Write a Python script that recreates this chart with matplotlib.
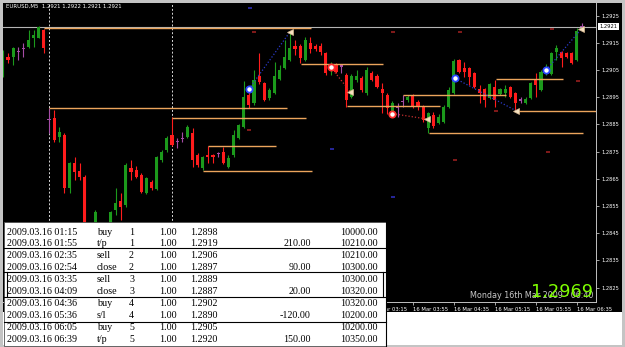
import matplotlib
matplotlib.use('Agg')
import matplotlib.pyplot as plt
from matplotlib.patches import Rectangle
import numpy as np

# EURUSD M5, bar index 0 = 16 Mar 00:00 (one bar = 5 minutes)
bar_idx = np.arange(-33, 81)

opens = [
    1.29032, 1.29098, 1.29098, 1.29120, 1.29131, 1.29135, 1.29168, 1.29168, 1.29197, 1.28867,  # -33..-24
    1.28874, 1.28804, 1.28811, 1.28617, 1.28708, 1.28679, 1.28657, 1.28440, 1.28389, 1.28477,  # -23..-14
    1.28411, 1.28455, 1.28536, 1.28569, 1.28554, 1.28690, 1.28683, 1.28664, 1.28598, 1.28639,  # -13..-4
    1.28613, 1.28719, 1.28756, 1.28811, 1.28786, 1.28797, 1.28804, 1.28819, 1.28738, 1.28690,  # -3..6
    1.28738, 1.28738, 1.28742, 1.28749, 1.28694, 1.28738, 1.28800, 1.28841, 1.28958, 1.28929,  # 7..16
    1.29028, 1.29003, 1.28947, 1.28966, 1.29017, 1.29058, 1.29087, 1.29139, 1.29139, 1.29087,  # 17..26
    1.29150, 1.29139, 1.29139, 1.29113, 1.29058, 1.29069, 1.29065, 1.29032, 1.28951, 1.29014,  # 27..36
    1.29021, 1.28966, 1.29039, 1.29028, 1.28981, 1.28958, 1.28896, 1.28911, 1.28933, 1.28940,  # 37..46
    1.28958, 1.28933, 1.28914, 1.28837, 1.28885, 1.28856, 1.28859, 1.28914, 1.28966, 1.29087,  # 47..56
    1.29058, 1.29058, 1.29039, 1.28981, 1.28981, 1.28947, 1.28988, 1.28962, 1.28966, 1.28988,  # 57..66
    1.28966, 1.28940, 1.28929, 1.28947, 1.29014, 1.28977, 1.29043, 1.29036, 1.29117, 1.29117,  # 67..76
    1.29113, 1.29113, 1.29087, 1.29210,                                                        # 77..80
]
highs = [
    1.29124, 1.29113, 1.29135, 1.29135, 1.29150, 1.29197, 1.29197, 1.29212, 1.29201, 1.28911,
    1.28903, 1.28841, 1.28819, 1.28712, 1.28731, 1.28708, 1.28664, 1.28455, 1.28536, 1.28484,
    1.28477, 1.28532, 1.28617, 1.28598, 1.28708, 1.28719, 1.28697, 1.28672, 1.28657, 1.28646,
    1.28734, 1.28756, 1.28808, 1.28878, 1.28800, 1.28822, 1.28848, 1.28837, 1.28745, 1.28734,
    1.28771, 1.28742, 1.28749, 1.28767, 1.28738, 1.28830, 1.28852, 1.29010, 1.28981, 1.29050,
    1.29113, 1.29006, 1.28984, 1.29080, 1.29069, 1.29161, 1.29190, 1.29161, 1.29146, 1.29172,
    1.29172, 1.29146, 1.29150, 1.29117, 1.29080, 1.29076, 1.29069, 1.29039, 1.29036, 1.29050,
    1.29028, 1.29061, 1.29047, 1.29036, 1.29003, 1.28966, 1.28936, 1.28929, 1.28958, 1.28958,
    1.28962, 1.28940, 1.28922, 1.28896, 1.28896, 1.28889, 1.28922, 1.28988, 1.29091, 1.29091,
    1.29080, 1.29061, 1.29043, 1.28995, 1.28984, 1.29003, 1.29014, 1.28984, 1.28995, 1.28992,
    1.28970, 1.28951, 1.28951, 1.29006, 1.29039, 1.29050, 1.29072, 1.29117, 1.29142, 1.29120,
    1.29117, 1.29117, 1.29205, 1.29223,
]
lows = [
    1.29025, 1.29076, 1.29069, 1.29087, 1.29098, 1.29131, 1.29135, 1.29168, 1.29113, 1.28819,
    1.28786, 1.28786, 1.28598, 1.28598, 1.28646, 1.28646, 1.28425, 1.28367, 1.28374, 1.28396,
    1.28389, 1.28440, 1.28517, 1.28499, 1.28547, 1.28646, 1.28653, 1.28598, 1.28595, 1.28609,
    1.28609, 1.28712, 1.28749, 1.28771, 1.28764, 1.28786, 1.28800, 1.28694, 1.28694, 1.28683,
    1.28708, 1.28708, 1.28731, 1.28705, 1.28690, 1.28731, 1.28797, 1.28837, 1.28911, 1.28922,
    1.28999, 1.28936, 1.28940, 1.28962, 1.29014, 1.29054, 1.29083, 1.29106, 1.29076, 1.29083,
    1.29113, 1.29120, 1.29106, 1.29032, 1.29032, 1.29039, 1.29039, 1.28914, 1.28947, 1.29006,
    1.28970, 1.28958, 1.29010, 1.28984, 1.28892, 1.28889, 1.28889, 1.28878, 1.28914, 1.28933,
    1.28911, 1.28903, 1.28859, 1.28819, 1.28837, 1.28852, 1.28856, 1.28911, 1.28962, 1.29039,
    1.29025, 1.28995, 1.28984, 1.28929, 1.28914, 1.28944, 1.28914, 1.28958, 1.28951, 1.28947,
    1.28900, 1.28929, 1.28925, 1.28944, 1.28951, 1.28973, 1.29032, 1.29032, 1.29087, 1.29061,
    1.29094, 1.29072, 1.29083, 1.29205,
]
closes = [
    1.29117, 1.29087, 1.29131, 1.29120, 1.29131, 1.29161, 1.29179, 1.29208, 1.29131, 1.28867,
    1.28793, 1.28822, 1.28617, 1.28708, 1.28675, 1.28657, 1.28440, 1.28389, 1.28528, 1.28411,
    1.28462, 1.28528, 1.28561, 1.28547, 1.28701, 1.28675, 1.28657, 1.28602, 1.28653, 1.28617,
    1.28731, 1.28749, 1.28800, 1.28775, 1.28786, 1.28797, 1.28841, 1.28719, 1.28701, 1.28731,
    1.28731, 1.28731, 1.28742, 1.28708, 1.28727, 1.28811, 1.28848, 1.28951, 1.28922, 1.29014,
    1.29006, 1.28940, 1.28977, 1.29028, 1.29050, 1.29098, 1.29131, 1.29128, 1.29094, 1.29161,
    1.29128, 1.29128, 1.29117, 1.29039, 1.29069, 1.29043, 1.29065, 1.28940, 1.29028, 1.29028,
    1.28977, 1.29050, 1.29014, 1.28988, 1.28966, 1.28911, 1.28929, 1.28911, 1.28933, 1.28951,
    1.28914, 1.28914, 1.28867, 1.28892, 1.28845, 1.28878, 1.28914, 1.28977, 1.29083, 1.29043,
    1.29043, 1.29025, 1.28988, 1.28966, 1.28940, 1.28999, 1.28940, 1.28981, 1.28981, 1.28951,
    1.28929, 1.28940, 1.28944, 1.29003, 1.28995, 1.29043, 1.29058, 1.29113, 1.29131, 1.29094,
    1.29098, 1.29076, 1.29195, 1.29210,
]

symbol_title = "EURUSD,M5  1.2921 1.2922 1.2921 1.2921"
bid_price = 1.2921
big_quote = "1.2969"
clock_text = "Monday 16th Mar 2009 - 06:40"

# trade history (table + arrows on the chart)
trade_times = ["2009.03.16 01:15", "2009.03.16 01:55", "2009.03.16 02:35", "2009.03.16 02:54",
               "2009.03.16 03:35", "2009.03.16 04:09", "2009.03.16 04:36", "2009.03.16 05:36",
               "2009.03.16 06:05", "2009.03.16 06:39"]
trade_types = ["buy", "t/p", "sell", "close", "sell", "close", "buy", "s/l", "buy", "t/p"]
trade_ids = [1, 1, 2, 2, 3, 3, 4, 4, 5, 5]
trade_sizes = [1.00] * 10
trade_prices = [1.2898, 1.2919, 1.2906, 1.2897, 1.2889, 1.2887, 1.2902, 1.2890, 1.2905, 1.2920]
trade_profit = [None, 210.00, None, 90.00, None, 20.00, None, -120.00, None, 150.00]
trade_balance = [10000.00, 10210.00, 10210.00, 10300.00, 10300.00, 10320.00,
                 10320.00, 10200.00, 10200.00, 10350.00]

# orange horizontal level lines (price, from bar, to bar)
level_prices = [1.29203, 1.28911, 1.28874, 1.28771, 1.28679, 1.29072,
                1.28918, 1.28958, 1.29017, 1.28900, 1.28819]
level_start = [-25, -24, 0, 7, 6, 25.2, 34.1, 45, 63.2, 67.3, 50.1]
level_end = [27.1, 22.4, 26.1, 20.3, 27.3, 41.2, 52.3, 65.2, 76.3, 83, 80.2]

# little indicator dashes
dash_idx = [16, 43.1, 56.2, 74.1, 79.2, 15, 63.2, 55.2, 73.4, 15.2, 31.2, 43.1]
dash_price = [1.2919, 1.2919, 1.2919, 1.29201, 1.2901, 1.2883, 1.2890, 1.28719, 1.28749,
              1.29278, 1.2876, 1.28583]
dash_kind = ['r', 'r', 'r', 'r', 'r', 'r', 'r', 'r', 'r', 'b', 'b', 'b']

separator_bars = [-24, 0]
price_ticks = [1.2825 + 0.001 * k for k in range(11)]
time_ticks = list(range(7, 81, 8))


def bar_of(ts):
    hh, mm = ts.split()[1].split(':')
    return (int(hh) * 60 + int(mm)) / 5.0


W, H = 625, 347
fig = plt.figure(figsize=(6.25, 3.47), dpi=100)
fig.patch.set_facecolor('#c4c4c4')

bg = fig.add_axes([0, 0, 1, 1], zorder=0)
bg.set_xlim(0, W)
bg.set_ylim(H, 0)
bg.axis('off')
bg.add_patch(Rectangle((3, 3), 619, 309, fc='black', ec='none'))
bg.add_patch(Rectangle((3, 312), 619, 33, fc='white', ec='none'))

# chart area in pixels: x 3..596, y 3..302
ax = fig.add_axes([3 / W, 1 - 302 / H, 593 / W, 299 / H], zorder=1)
ax.set_facecolor('black')
ax.set_xlim(-32.98, 82.73)
ax.set_ylim(1.281974, 1.292967)

GREEN, RED, PURPLE = '#1c9a1c', '#ff1c1c', '#a64ca6'
o, h, l, c = map(np.array, (opens, highs, lows, closes))
doji = np.isclose(o, c)
col = np.where(doji, PURPLE, np.where(c > o, GREEN, RED))
ax.vlines(bar_idx, l, h, colors=col, lw=0.8, zorder=2)
body_h = np.where(doji, 0.00004, np.maximum(np.abs(c - o), 0.00003))
body_lo = np.where(doji, o - 0.00002, np.minimum(o, c))
ax.bar(bar_idx, body_h, bottom=body_lo, width=0.62, color=col, lw=0, zorder=2)

# separators, bid line, levels
for s in separator_bars:
    ax.axvline(s, color='#d8d8d8', ls=(0, (2, 2)), lw=0.7, zorder=1.5)
ax.axhline(bid_price, color='#b4b4b4', lw=0.8, zorder=1.5)
ax.hlines(level_prices, level_start, level_end, colors='#eca55c', lw=1.0, zorder=3)

dcol = ['#8c1c1c' if k == 'r' else '#2a2aa8' for k in dash_kind]
ax.scatter(dash_idx, dash_price, marker='_', s=10, c=dcol, linewidths=1.3, zorder=3)

# trades: entry circle, dotted link, exit arrow
for i in range(0, len(trade_times), 2):
    xe, xx = bar_of(trade_times[i]), bar_of(trade_times[i + 1])
    pe, px = trade_prices[i], trade_prices[i + 1]
    tc = '#2a46ff' if trade_types[i] == 'buy' else '#ff3030'
    lc = '#2a3ac8' if trade_types[i] == 'buy' else '#c83030'
    ax.plot([xe, xx], [pe, px], ls=(0, (1, 1.6)), lw=0.9, color=lc, zorder=3.5)
    ax.plot(xe, pe, 'o', ms=4.5, mfc='white', mec=tc, mew=1.3, zorder=4)
    ax.plot(xx, px, '<', ms=4.5, color='#f6e2c0', mec='#d8b890', mew=0.5, zorder=4)

# axes decoration (MT4 style)
for side in ('left', 'top'):
    ax.spines[side].set_visible(False)
for side in ('right', 'bottom'):
    ax.spines[side].set_color('#c0c0c0')
    ax.spines[side].set_linewidth(0.7)

ax.yaxis.tick_right()
ax.set_yticks(price_ticks)
ax.set_yticklabels([f'{p:.4f}' for p in price_ticks])
ax.tick_params(axis='y', colors='#c0c0c0', labelcolor='white', labelsize=3.7,
               length=2.5, width=0.6, pad=1.5)

ax.set_xticks(time_ticks)
ax.set_xticklabels([f'16 Mar {t * 5 // 60:02d}:{t * 5 % 60:02d}' for t in time_ticks], ha='left')
ax.tick_params(axis='x', colors='#c0c0c0', labelcolor='white', labelsize=3.8,
               length=2.5, width=0.6, pad=1)

ax.annotate(f'{bid_price:.4f}', xy=(1.0, bid_price), xycoords=('axes fraction', 'data'),
            xytext=(2.5, 0), textcoords='offset points', ha='left', va='center',
            fontsize=3.7, color='black',
            bbox=dict(boxstyle='square,pad=0.25', fc='white', ec='none'))

# overlay: title, big quote, trade table
ov = fig.add_axes([0, 0, 1, 1], zorder=5)
ov.set_xlim(0, W)
ov.set_ylim(H, 0)
ov.axis('off')

ov.text(6, 6.5, symbol_title, fontsize=3.9, color='white', va='center', ha='left')
ov.text(593, 298, clock_text, fontsize=5.8, color='#c8c8c8', ha='right', va='baseline')
ov.text(593, 297, big_quote, fontsize=12.8, color='#7fff00', ha='right', va='baseline')

ov.add_patch(Rectangle((3.5, 222), 382, 124, fc='white', ec='#505050', lw=0.6))
for y in (248, 272, 297, 322):
    ov.plot([3.5, 385.5], [y, y], color='black', lw=0.8)
ov.plot([7, 7], [272, 297], color='black', lw=0.8)
ov.plot([383, 383], [272, 297], color='black', lw=0.8)
ov.plot([385.5, 385.5], [222, 346], color='black', lw=0.8)

serif = dict(family='Liberation Serif', fontsize=7.2, color='black', va='center')
for i in range(len(trade_times)):
    y = 232 + 11.9 * i
    ov.text(7, y, trade_times[i], ha='left', **serif)
    ov.text(97, y, trade_types[i], ha='left', **serif)
    ov.text(129, y, str(trade_ids[i]), ha='left', **serif)
    ov.text(159, y, f'{trade_sizes[i]:.2f}', ha='left', **serif)
    ov.text(190, y, f'{trade_prices[i]:.4f}', ha='left', **serif)
    if trade_profit[i] is not None:
        ov.text(311, y, f'{trade_profit[i]:.2f}', ha='right', **serif)
    ov.text(378, y, f'{trade_balance[i]:.2f}', ha='right', **serif)

plt.savefig('out.png', dpi=100, facecolor=fig.get_facecolor())
